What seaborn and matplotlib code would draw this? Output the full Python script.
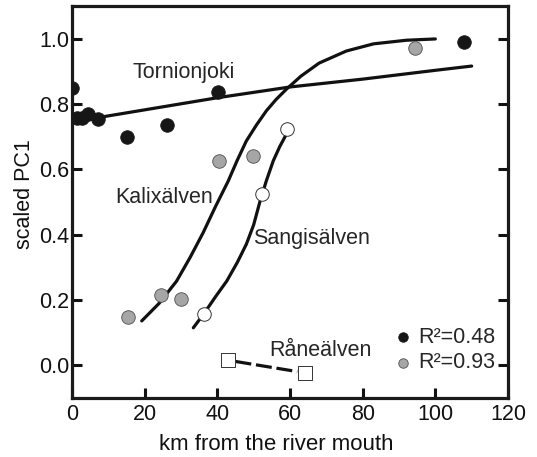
import matplotlib
matplotlib.use("Agg")
import matplotlib.pyplot as plt
import seaborn as sns

# measured points (km from mouth, scaled PC1)
torn_km = [0, 1.5, 2.8, 4.3, 7.3, 15.1, 26.1, 40.1, 107.9]
torn_pc1 = [0.848, 0.757, 0.757, 0.769, 0.753, 0.699, 0.735, 0.838, 0.991]
kalix_km = [15.5, 24.4, 29.9, 40.5, 49.7, 94.5]
kalix_pc1 = [0.149, 0.216, 0.204, 0.626, 0.641, 0.972]
sangi_km = [36.3, 52.2, 59.3]
sangi_pc1 = [0.158, 0.524, 0.723]
rane_km = [43.0, 64.1]
rane_pc1 = [0.017, -0.022]

# fitted curves
torn_fit_km = [0, 20, 40, 60, 80, 100, 110]
torn_fit_pc1 = [0.745, 0.782, 0.819, 0.852, 0.876, 0.903, 0.916]
kalix_fit_km = [19.2, 24, 28.8, 32.5, 36.1, 39.5, 43, 45.5, 48, 50.8, 53.5, 56.2,
                59, 63, 68, 75.5, 83, 92, 100]
kalix_fit_pc1 = [0.136, 0.19, 0.258, 0.33, 0.406, 0.486, 0.564, 0.628, 0.687, 0.736,
                 0.779, 0.814, 0.845, 0.885, 0.925, 0.962, 0.984, 0.995, 0.999]
sangi_fit_km = [33.4, 36.3, 39.5, 42.6, 45.5, 48, 50, 51.7, 53.5, 55.4, 57.2, 59]
sangi_fit_pc1 = [0.115, 0.158, 0.21, 0.258, 0.315, 0.371, 0.43, 0.5, 0.565, 0.626,
                 0.67, 0.707]
rane_fit_km = [45.0, 62.0]
rane_fit_pc1 = [0.012, -0.019]

sns.set_style("ticks")
plt.rcParams["font.family"] = ["Liberation Sans", "DejaVu Sans"]

fig = plt.figure(figsize=(5.37, 4.57), dpi=100)
ax = fig.add_axes([0.134, 0.129, 0.812, 0.858])

lw = 2.3
for xs, ys in [(torn_fit_km, torn_fit_pc1), (kalix_fit_km, kalix_fit_pc1),
               (sangi_fit_km, sangi_fit_pc1)]:
    sns.lineplot(x=xs, y=ys, ax=ax, color="#111111", lw=lw,
                 estimator=None, sort=False, zorder=2)
ax.plot(rane_fit_km, rane_fit_pc1, color="#111111", lw=lw,
        dashes=(5, 1.5), zorder=2)

ms = 95
sns.scatterplot(x=torn_km, y=torn_pc1, ax=ax, color="#161616", edgecolor="#161616",
                s=ms, linewidth=0.6, zorder=3, label="R²=0.48")
sns.scatterplot(x=kalix_km, y=kalix_pc1, ax=ax, color="#a6a6a6", edgecolor="#4d4d4d",
                s=ms, linewidth=0.6, zorder=3, label="R²=0.93")
sns.scatterplot(x=sangi_km, y=sangi_pc1, ax=ax, color="white", edgecolor="#333333",
                s=ms, linewidth=0.7, zorder=3)
sns.scatterplot(x=rane_km, y=rane_pc1, ax=ax, color="white", edgecolor="#333333",
                s=110, marker="s", linewidth=0.7, zorder=3)

fs = 15.5
ax.text(30.7, 0.896, "Tornionjoki", fontsize=fs, ha="center", va="center")
ax.text(25.3, 0.513, "Kalixälven", fontsize=fs, ha="center", va="center")
ax.text(65.8, 0.389, "Sangisälven", fontsize=fs, ha="center", va="center")
ax.text(68.4, 0.044, "Råneälven", fontsize=fs, ha="center", va="center")

ax.legend(loc="lower right", bbox_to_anchor=(1.0, 0.03), frameon=False,
          fontsize=fs, markerscale=0.7, handletextpad=-0.3,
          labelspacing=0.2, borderaxespad=0.2)

ax.set_xlim(0, 120)
ax.set_ylim(-0.1, 1.1)
ax.set_xticks([0, 20, 40, 60, 80, 100, 120])
ax.set_yticks([0.0, 0.2, 0.4, 0.6, 0.8, 1.0])
ax.set_yticklabels(["0.0", "0.2", "0.4", "0.6", "0.8", "1.0"])
ax.tick_params(direction="in", length=7, width=2.2, labelsize=fs, right=True,
               colors="#111111")
ax.tick_params(axis="y", pad=2)
ax.tick_params(axis="x", pad=4)
for sp in ax.spines.values():
    sp.set_visible(True)
    sp.set_linewidth(2.3)
    sp.set_color("#1a1a1a")
ax.set_xlabel("")
ax.set_ylabel("")
fig.text(276.7 / 537, 1 - 444 / 457, "km from the river mouth", fontsize=16,
         ha="center", va="center", color="#111111")
fig.text(25 / 537, 1 - 194 / 457, "scaled PC1", fontsize=fs, rotation=90,
         ha="center", va="center", color="#111111")

fig.savefig("out.png", dpi=100)
